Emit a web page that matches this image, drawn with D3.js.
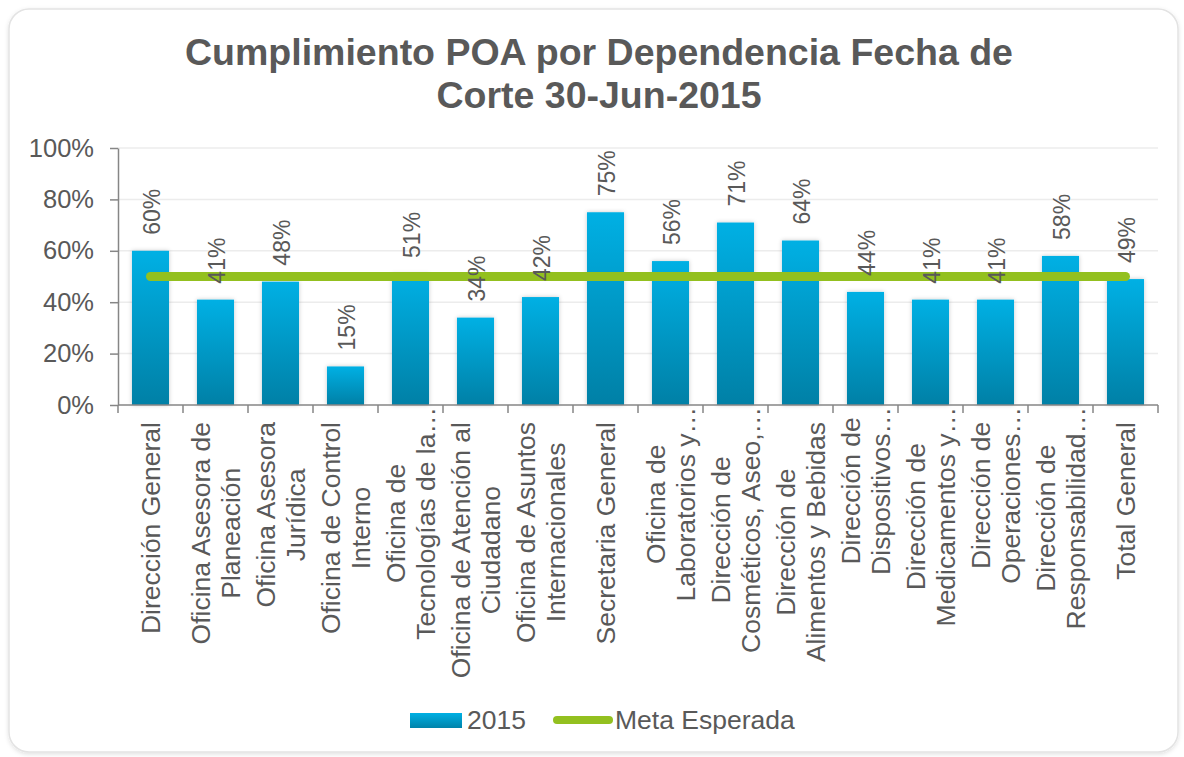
<!DOCTYPE html>
<html>
<head>
<meta charset="utf-8">
<script src="https://cdn.jsdelivr.net/npm/d3@7"></script>
<style>
  html, body { margin: 0; padding: 0; background: #ffffff; }
  svg { display: block; font-family: "Liberation Sans", Arial, sans-serif; }
</style>
</head>
<body>
<svg id="chart" width="1184" height="757"></svg>
<script>
const categories = [
  ["Dirección General"],
  ["Oficina Asesora de", "Planeación"],
  ["Oficina Asesora", "Jurídica"],
  ["Oficina de Control", "Interno"],
  ["Oficina de", "Tecnologías de la…"],
  ["Oficina de Atención al", "Ciudadano"],
  ["Oficina de Asuntos", "Internacionales"],
  ["Secretaria General"],
  ["Oficina de", "Laboratorios y…"],
  ["Dirección de", "Cosméticos, Aseo,…"],
  ["Dirección de", "Alimentos y Bebidas"],
  ["Dirección de", "Dispositivos…"],
  ["Dirección de", "Medicamentos y…"],
  ["Dirección de", "Operaciones…"],
  ["Dirección de", "Responsabilidad…"],
  ["Total General"]
];
const values2015 = [60, 41, 48, 15, 51, 34, 42, 75, 56, 71, 64, 44, 41, 41, 58, 49];
const metaEsperada = [50, 50, 50, 50, 50, 50, 50, 50, 50, 50, 50, 50, 50, 50, 50, 50];
const yTicks = [0, 20, 40, 60, 80, 100];
const titleLines = ["Cumplimiento POA por Dependencia Fecha de", "Corte 30-Jun-2015"];
const seriesNames = ["2015", "Meta Esperada"];

(function () {
const textColor = "#595959";
const svg = d3.select("#chart");
const defs = svg.append("defs");

const grad = defs.append("linearGradient").attr("id", "barGrad")
  .attr("x1", 0).attr("y1", 0).attr("x2", 0).attr("y2", 1);
grad.append("stop").attr("offset", "0%").attr("stop-color", "#00b0e4");
grad.append("stop").attr("offset", "100%").attr("stop-color", "#0080a6");

const legGrad = defs.append("linearGradient").attr("id", "legGrad")
  .attr("x1", 0).attr("y1", 0).attr("x2", 0).attr("y2", 1);
legGrad.append("stop").attr("offset", "0%").attr("stop-color", "#00b0e4");
legGrad.append("stop").attr("offset", "100%").attr("stop-color", "#0083aa");

const shadow = defs.append("filter").attr("id", "barShadow")
  .attr("x", "-30%").attr("y", "-10%").attr("width", "160%").attr("height", "120%");
shadow.append("feDropShadow").attr("dx", 0).attr("dy", 0).attr("stdDeviation", 2)
  .attr("flood-color", "#000").attr("flood-opacity", 0.22);

const boxShadow = defs.append("filter").attr("id", "boxShadow")
  .attr("x", "-5%").attr("y", "-5%").attr("width", "110%").attr("height", "110%");
boxShadow.append("feDropShadow").attr("dx", 0).attr("dy", 1.5).attr("stdDeviation", 2)
  .attr("flood-color", "#000").attr("flood-opacity", 0.12);

// container
svg.append("rect").attr("x", 9).attr("y", 9).attr("width", 1169).attr("height", 743)
  .attr("rx", 20).attr("ry", 20).attr("fill", "#ffffff")
  .attr("stroke", "#e3e3e3").attr("stroke-width", 1.5).attr("filter", "url(#boxShadow)");

// title
svg.append("text").attr("x", 599).attr("y", 65).attr("text-anchor", "middle")
  .attr("font-size", 37.5).attr("font-weight", "bold").attr("fill", textColor)
  .selectAll("tspan").data(titleLines).join("tspan")
  .attr("x", 599).attr("dy", (d, i) => i === 0 ? 0 : 43).text(d => d);

const pLeft = 118, pRight = 1158, pTop = 148, pBottom = 405;
const x = d3.scaleBand().domain(d3.range(categories.length)).range([pLeft, pRight])
  .paddingInner(0.43).paddingOuter(0.215);
const y = d3.scaleLinear().domain([0, 100]).range([pBottom, pTop]);

// gridlines
svg.append("g").selectAll("line").data(yTicks.filter(t => t > 0)).join("line")
  .attr("x1", pLeft).attr("x2", pRight).attr("y1", d => y(d)).attr("y2", d => y(d))
  .attr("stroke", "#ececec").attr("stroke-width", 1.5);

// y axis
const yAxis = svg.append("g").attr("transform", `translate(${pLeft},0)`)
  .call(d3.axisLeft(y).tickValues(yTicks).tickFormat(d => d + "%").tickSize(8).tickSizeOuter(0).tickPadding(16));
yAxis.select(".domain").attr("stroke", "#868686").attr("stroke-width", 1.5);
yAxis.selectAll(".tick line").attr("stroke", "#868686").attr("stroke-width", 1.5);
yAxis.selectAll(".tick text").attr("font-size", 25.5).attr("fill", textColor)
  .attr("font-family", "Liberation Sans, Arial, sans-serif");

// bars
svg.append("g").selectAll("rect").data(values2015).join("rect")
  .attr("x", (d, i) => x(i)).attr("width", x.bandwidth())
  .attr("y", d => y(d)).attr("height", d => y(0) - y(d))
  .attr("fill", "url(#barGrad)").attr("filter", "url(#barShadow)");

// x axis (boundary ticks)
const step = x.step();
const boundaries = d3.range(categories.length + 1).map(i => pLeft + i * step);
const xAxisG = svg.append("g");
xAxisG.append("line").attr("x1", pLeft).attr("x2", pRight).attr("y1", pBottom).attr("y2", pBottom)
  .attr("stroke", "#868686").attr("stroke-width", 1.5);
xAxisG.selectAll("line.tk").data(boundaries).join("line").attr("class", "tk")
  .attr("x1", d => d).attr("x2", d => d).attr("y1", pBottom).attr("y2", pBottom + 8)
  .attr("stroke", "#868686").attr("stroke-width", 1.5);

// meta line
const line = d3.line().x((d, i) => x(i) + x.bandwidth() / 2).y(d => y(d));
svg.append("path").datum(metaEsperada).attr("d", line)
  .attr("fill", "none").attr("stroke", "#93c01f").attr("stroke-width", 9)
  .attr("stroke-linecap", "round").attr("stroke-linejoin", "round");

// data labels
svg.append("g").selectAll("text").data(values2015).join("text")
  .attr("transform", (d, i) => `translate(${x(i) + x.bandwidth() / 2 + 1},${y(d) - 16}) rotate(-90)`)
  .attr("text-anchor", "start").attr("dy", "0.35em")
  .attr("font-size", 23).attr("fill", textColor).text(d => d + "%");

// category labels
const catG = svg.append("g");
categories.forEach((lines, i) => {
  const cx = x(i) + x.bandwidth() / 2;
  const g = catG.append("g");
  const texts = g.selectAll("text").data(lines).join("text")
    .attr("text-anchor", "middle").attr("font-size", 26.5).attr("fill", textColor)
    .attr("x", 0).attr("y", (d, j) => (j - (lines.length - 1) / 2) * 30)
    .attr("dy", "0.35em").text(d => d);
  let maxLen = 0;
  texts.each(function () { maxLen = Math.max(maxLen, this.getComputedTextLength()); });
  const truncated = lines.some(l => l.endsWith("…"));
  const start = truncated ? pBottom + 2 : pBottom + 17;
  g.attr("transform", `translate(${cx},${start + maxLen / 2}) rotate(-90)`);
});

// legend
const lg = svg.append("g");
lg.append("rect").attr("x", 410).attr("y", 713).attr("width", 52).attr("height", 15)
  .attr("fill", "url(#legGrad)");
lg.append("text").attr("x", 467).attr("y", 720).attr("dy", "0.35em")
  .attr("font-size", 26.5).attr("fill", textColor).text(seriesNames[0]);
lg.append("line").attr("x1", 557).attr("x2", 609).attr("y1", 720).attr("y2", 720)
  .attr("stroke", "#93c01f").attr("stroke-width", 8).attr("stroke-linecap", "round");
lg.append("text").attr("x", 615).attr("y", 720).attr("dy", "0.35em")
  .attr("font-size", 26.5).attr("fill", textColor).text(seriesNames[1]);
})();
</script>
</body>
</html>
